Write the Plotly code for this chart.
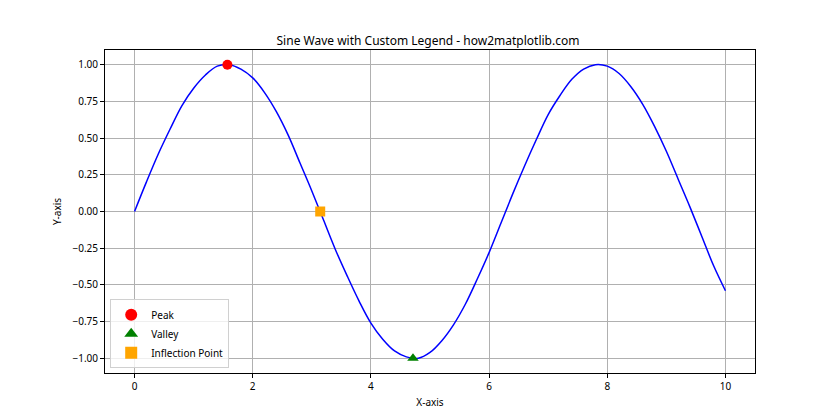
import plotly.graph_objects as go

x_vals = [0.0, 0.2, 0.4, 0.6, 0.8, 1.0, 1.2, 1.4, 1.6, 1.8, 2.0, 2.2, 2.4, 2.6, 2.8, 3.0,
          3.2, 3.4, 3.6, 3.8, 4.0, 4.2, 4.4, 4.6, 4.8, 5.0, 5.2, 5.4, 5.6, 5.8, 6.0,
          6.2, 6.4, 6.6, 6.8, 7.0, 7.2, 7.4, 7.6, 7.8, 8.0, 8.2, 8.4, 8.6, 8.8, 9.0,
          9.2, 9.4, 9.6, 9.8, 10.0]
y_vals = [0.00, 0.20, 0.39, 0.56, 0.72, 0.84, 0.93, 0.99, 1.00, 0.97, 0.91, 0.81, 0.68, 0.52,
          0.33, 0.14, -0.06, -0.26, -0.44, -0.61, -0.76, -0.87, -0.95, -0.99, -1.00, -0.96,
          -0.88, -0.77, -0.63, -0.46, -0.28, -0.08, 0.12, 0.31, 0.49, 0.66, 0.79, 0.90, 0.97,
          1.00, 0.99, 0.94, 0.85, 0.73, 0.58, 0.41, 0.22, 0.03, -0.17, -0.37, -0.54]

point_names = ["Peak", "Valley", "Inflection Point"]
point_x = [1.571, 4.712, 3.142]
point_y = [1.0, -1.0, 0.0]
point_symbols = ["circle", "triangle-up", "square"]
point_colors = ["red", "green", "orange"]

FONT = "Noto Sans"
fig = go.Figure()
fig.add_trace(go.Scatter(x=x_vals, y=y_vals, mode="lines", line=dict(color="blue", width=1.5, shape="spline"),
                         showlegend=False, hoverinfo="skip"))
for n, px, py, s, c in zip(point_names, point_x, point_y, point_symbols, point_colors):
    fig.add_trace(go.Scatter(x=[px], y=[py], mode="markers", name=n,
                             marker=dict(symbol=s, color=c, size=10)))

axis_common = dict(showgrid=True, gridcolor="#b0b0b0", gridwidth=0.8, showline=True, linecolor="black",
                   linewidth=1, mirror=True, ticks="outside", ticklen=4, tickcolor="black",
                   zeroline=False, tickfont=dict(family=FONT, size=10, color="black"))
fig.update_layout(
    width=840, height=420,
    margin=dict(l=97, r=93, t=42, b=55),
    paper_bgcolor="white", plot_bgcolor="white",
    title=dict(text="Sine Wave with Custom Legend - how2matplotlib.com", x=0.5, xanchor="center",
               y=1 - 33 / 420, yanchor="middle", yref="container",
               font=dict(family=FONT, size=12, color="black")),
    xaxis=dict(range=[-0.5, 10.5], tickvals=[0, 2, 4, 6, 8, 10],
               title=dict(text="X-axis", font=dict(family=FONT, size=10, color="black"), standoff=6),
               **axis_common),
    yaxis=dict(range=[-1.1, 1.1], tickvals=[-1, -0.75, -0.5, -0.25, 0, 0.25, 0.5, 0.75, 1.0],
               tickformat=".2f",
               title=dict(text="Y-axis", font=dict(family=FONT, size=10, color="black"), standoff=8),
               **axis_common),
    legend=dict(x=0.008, y=0.015, xanchor="left", yanchor="bottom", bgcolor="rgba(255,255,255,0.8)",
                bordercolor="#d0d0d0", borderwidth=1, font=dict(family=FONT, size=10, color="black"),
                itemsizing="constant", itemwidth=30, tracegroupgap=0),
    showlegend=True,
)
fig.write_html("out.html")
